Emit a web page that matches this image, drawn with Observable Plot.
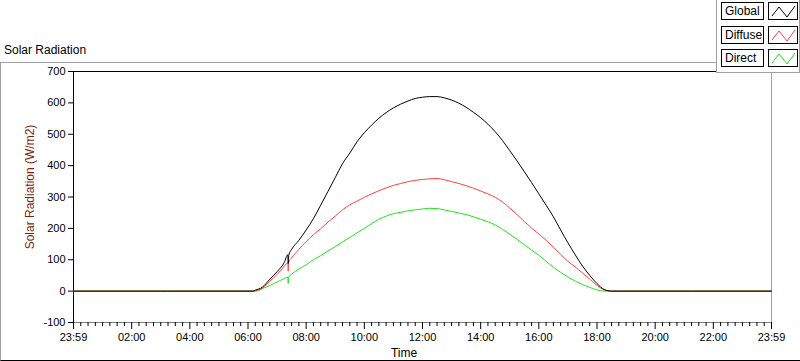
<!DOCTYPE html>
<html><head><meta charset="utf-8">
<script src="https://cdn.jsdelivr.net/npm/d3@7"></script>
<script src="https://cdn.jsdelivr.net/npm/@observablehq/plot@0.6"></script>
<style>
body{margin:0;background:#fff;font-family:"Liberation Sans",Arial,sans-serif;}
#wrap{position:relative;width:800px;height:361px;overflow:hidden;background:#fff;}
#panel{position:absolute;left:0;top:62px;width:800px;height:299px;border-top:1px solid #a0a0a0;border-left:1px solid #a0a0a0;border-bottom:1px solid #000;box-sizing:border-box;}
#title{position:absolute;left:4px;top:43px;font-size:12px;line-height:14px;color:#000;}
#chart{position:absolute;left:0;top:0;}
#legend{position:absolute;left:716px;top:0;width:84px;height:73px;background:#fff;border-left:1px solid #a0a0a0;border-bottom:1px solid #a0a0a0;border-right:1px solid #a0a0a0;box-sizing:border-box;z-index:2;}
.lab{position:absolute;left:4px;width:43px;height:18px;border:1px solid #000;box-sizing:border-box;font-size:12px;line-height:16px;padding-left:3px;background:#fff;}
.sw{position:absolute;left:51px;width:30px;height:18px;border:1px solid #000;box-sizing:border-box;background:#fff;}
.sw svg{display:block;}
</style>
</head><body>
<div id="wrap">
  <div id="panel"></div>
  <div id="title">Solar Radiation</div>
  <div id="chart"></div>
  <div id="legend"></div>
</div>
<script>
// ---- data ----
const times = ["00:00","06:00","06:10","06:15","06:30","06:45","07:00","07:15","07:22","07:23","07:24","07:30","07:45",
  "08:00","08:15","08:30","08:45","09:00","09:15","09:30","09:45","10:00","10:15","10:30","10:45",
  "11:00","11:15","11:30","11:45","12:00","12:15","12:30","12:45","13:00","13:15","13:30","13:45",
  "14:00","14:15","14:30","14:45","15:00","15:15","15:30","15:45","16:00","16:15","16:30","16:45",
  "17:00","17:15","17:30","17:45","18:00","18:15","18:30","24:00"];
const globalRad = [0,0,0,3,13,38,62,92,116,88,114,133,162,
  195,231,274,318,362,406,440,476,505,529,551,569,
  584,596,606,614,618,620,620,616,609,599,586,570,
  553,532,508,480,448,415,381,346,310,274,237,195,
  154,116,80,50,24,5,0,0];
const diffuseRad = [0,0,0,1,10,32,53,80,90,64,92,106,133,
  158,180,199,220,239,259,275,287,299,310,320,329,
  337,343,349,353,356,358,359,355,349,343,336,328,
  319,310,299,284,265,244,222,201,182,162,140,117,
  95,77,58,38,18,4,0,0];
const directRad = [0,0,0,0,8,18,29,40,44,24,45,54,71,
  84,100,113,128,142,157,171,186,200,215,229,239,
  247,251,256,259,262,264,263,259,254,249,244,237,
  229,221,211,197,181,165,148,131,114,95,76,60,
  45,32,21,12,4,0,0,0];
const seriesNames = ["Global","Diffuse","Direct"];
const seriesColors = ["#000000","#ff4040","#1ee61e"];
const xTickValues = [0,2,4,6,8,10,12,14,16,18,20,22,24];
const xTickLabels = ["23:59","02:00","04:00","06:00","08:00","10:00","12:00","14:00","16:00","18:00","20:00","22:00","23:59"];
const yTickValues = [-100,0,100,200,300,400,500,600,700];

// ---- build table ----
const toH = s => { const [h,m] = s.split(":").map(Number); return h + m/60; };
const rows = [];
const allSeries = [globalRad, diffuseRad, directRad];
allSeries.forEach((arr, si) => arr.forEach((v, i) => rows.push({t: toH(times[i]), v, s: seriesNames[si]})));
const minor = d3.range(0, 24.001, 0.25).filter(d => Math.abs(d/2 - Math.round(d/2)) > 1e-6);

const lineOpts = (name, color) => Plot.line(rows.filter(r => r.s === name),
  {x: "t", y: "v", stroke: color, strokeWidth: 1, curve: "monotone-x"});

const chart = Plot.plot({
  width: 800, height: 361,
  marginLeft: 73, marginRight: 29, marginTop: 71, marginBottom: 39,
  style: {fontFamily: "Liberation Sans, Arial, sans-serif", fontSize: "11px", background: "transparent", overflow: "visible"},
  x: {domain: [0, 24]},
  y: {domain: [-100, 700]},
  marks: [
    Plot.frame({anchor: "right", stroke: "#a0a0a0", shapeRendering: "crispEdges"}),
    Plot.frame({anchor: "bottom", stroke: "#808080", shapeRendering: "crispEdges"}),
    Plot.frame({anchor: "top", stroke: "#000", shapeRendering: "crispEdges"}),
    Plot.frame({anchor: "left", stroke: "#000", shapeRendering: "crispEdges"}),
    Plot.axisY({ticks: yTickValues, tickSize: 5, tickPadding: 3, label: null, tickFormat: d => String(d)}),
    Plot.axisX({ticks: minor, tickSize: 4, tickFormat: () => "", label: null}),
    Plot.axisX({ticks: xTickValues, tickSize: 7, tickPadding: 4, label: null,
      tickFormat: d => xTickLabels[xTickValues.indexOf(d)]}),
    lineOpts("Direct", seriesColors[2]),
    lineOpts("Diffuse", seriesColors[1]),
    lineOpts("Global", seriesColors[0])
  ]
});
const svg = d3.select(chart);
svg.append("text").attr("transform", "translate(34,187) rotate(-90)").attr("text-anchor", "middle")
  .attr("fill", "#7a1e0e").style("font-size", "12px").text("Solar Radiation (W/m2)");
svg.append("text").attr("x", 404).attr("y", 357).attr("fill", "#000").style("font-size", "12px").text("Time");
document.getElementById("chart").appendChild(chart);

// ---- legend ----
const leg = document.getElementById("legend");
const tops = [2, 26, 49];
seriesNames.forEach((n, i) => {
  const l = document.createElement("div"); l.className = "lab"; l.style.top = tops[i] + "px"; l.textContent = n; leg.appendChild(l);
  const s = document.createElement("div"); s.className = "sw"; s.style.top = tops[i] + "px";
  s.innerHTML = `<svg width="28" height="16"><polyline points="3,13 10,4 18,14 26,3" fill="none" stroke="${seriesColors[i]}" stroke-width="1"/></svg>`;
  leg.appendChild(s);
});
</script>
</body></html>
